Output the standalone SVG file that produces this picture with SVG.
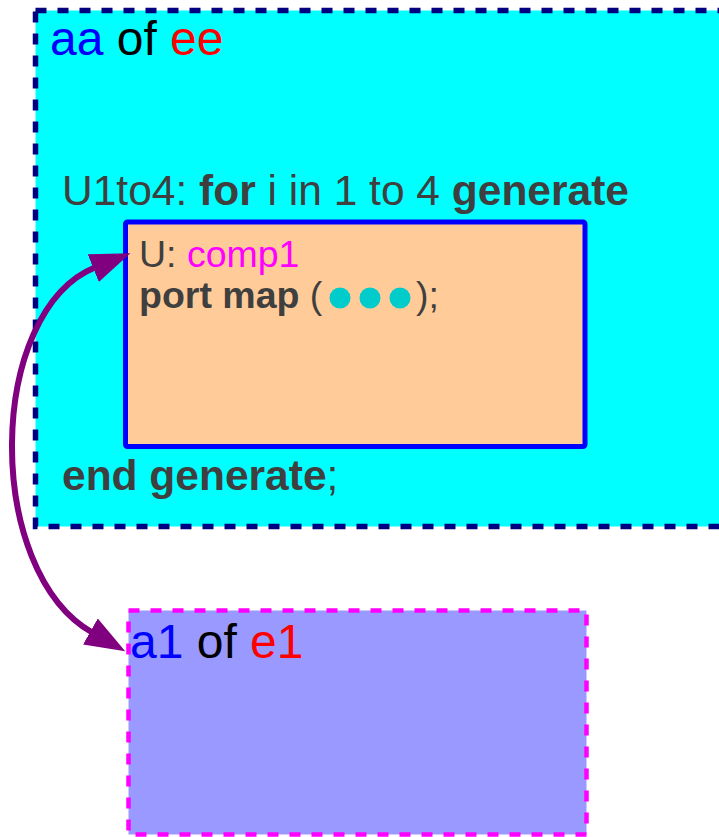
<svg xmlns="http://www.w3.org/2000/svg" width="719" height="837" viewBox="0 0 719 837">
<style>
text{font-family:"Liberation Sans",Arial,sans-serif}
.g{fill:#3f3f3f}
.b{font-weight:bold}
.blue{fill:#0000ff}
.red{fill:#ff0000}
.blk{fill:#000000}
.mag{fill:#ff00ff}
.dot{fill:#00cccc}
</style>
<defs>
<marker id="ah" markerUnits="userSpaceOnUse" markerWidth="44" markerHeight="32" refX="3" refY="15" orient="auto-start-reverse" viewBox="0 0 44 32">
<path d="M0,0 L40,15 L0,30 z" fill="#800080"/>
</marker>
</defs>
<g id="aa_of_ee">
<rect x="35.5" y="10.5" width="700" height="516" fill="#00ffff" stroke="#000080" stroke-width="5.5" stroke-dasharray="11 11"/>
<text x="50" y="55" font-size="48"><tspan class="blue">aa</tspan><tspan class="blk"> of </tspan><tspan class="red">ee</tspan></text>
<text x="62" y="205" font-size="42.5" class="g">U1to4: <tspan class="b">for</tspan> i in 1 to 4 <tspan class="b">generate</tspan></text>
<text x="62" y="490" font-size="42.5" class="g"><tspan class="b">end generate</tspan>;</text>
</g>
<g id="U_comp1">
<rect x="125.5" y="222" width="459.5" height="224.5" rx="2" fill="#ffcc99" stroke="#0000ff" stroke-width="5" stroke-linejoin="round"/>
<text x="139" y="267" font-size="37.5" class="g">U: <tspan class="mag">comp1</tspan></text>
<text x="139" y="308" font-size="37.5" class="g"><tspan class="b">port map</tspan> (<tspan x="416">);</tspan></text>
<circle class="dot" cx="340" cy="298" r="10.5"/>
<circle class="dot" cx="370" cy="298" r="10.5"/>
<circle class="dot" cx="400" cy="298" r="10.5"/>
</g>
<g id="a1_of_e1">
<rect x="128.5" y="610.5" width="458" height="224" fill="#9999ff" stroke="#ff00ff" stroke-width="4.5" stroke-dasharray="11 11"/>
<text x="130" y="658" font-size="48"><tspan class="blue">a1</tspan><tspan class="blk"> of </tspan><tspan class="red">e1</tspan></text>
</g>
<g id="connectors">
<path d="M96,267 C-14,311 -17,571 93,633" fill="none" stroke="#800080" stroke-width="6" marker-start="url(#ah)" marker-end="url(#ah)"/>
</g>
</svg>
